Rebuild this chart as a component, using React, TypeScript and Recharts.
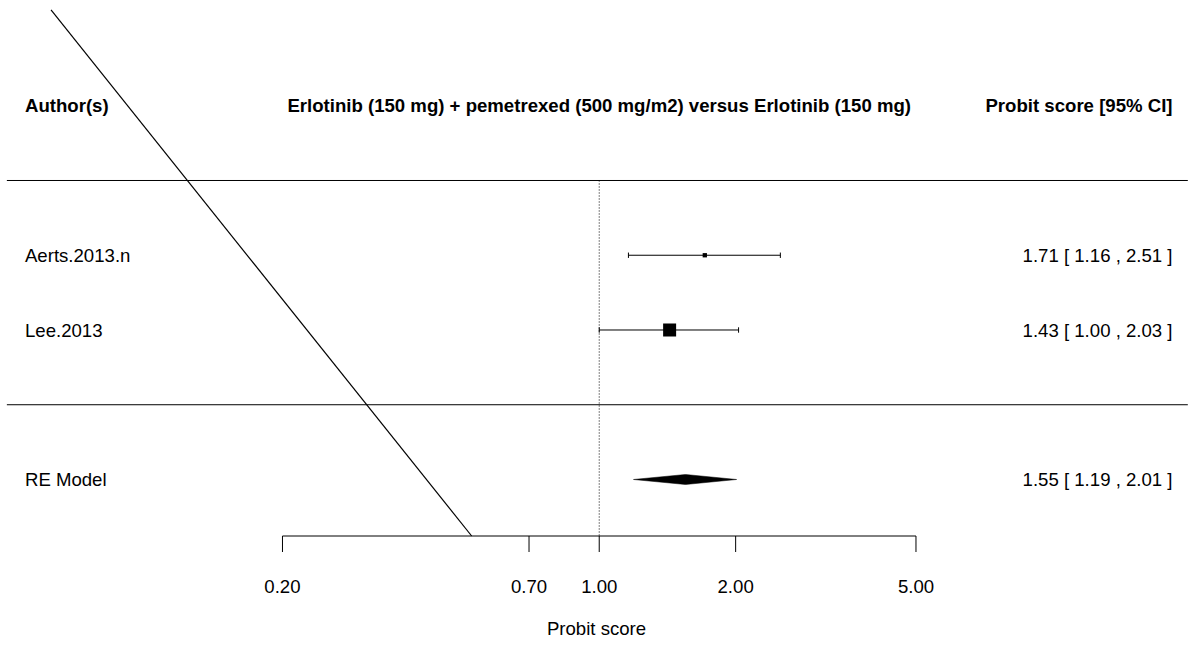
import React from 'react'
import { ComposedChart, XAxis, YAxis, Scatter, ReferenceLine, ReferenceDot } from 'recharts'

// study data
const authors = ['Aerts.2013.n', 'Lee.2013']
const estimates = [1.71, 1.43]
const lower = [1.16, 1.0]
const upper = [2.51, 2.03]
const weights = [45.7, 54.3]

// pooled estimate
const summaryLabel = 'RE Model'
const summaryEst = 1.55
const summaryLo = 1.19
const summaryHi = 2.01

const ticks = [0.2, 0.7, 1, 2, 5]
const title = 'Erlotinib (150 mg) + pemetrexed (500 mg/m2) versus Erlotinib (150 mg)'

// layout
const W = 1193
const H = 645
const XMIN = 0.04761
const XMAX = 20.43
const YMIN = 0.2441
const YMAX = 7.4147
const STUDY_ROWS = [4, 3]
const SUMMARY_ROW = 1
const HEADER_ROW = 6
const SEP_ROWS = [5, 2]
const SEP_X = [0.0493, 19.9]
const LEFT_X = 0.05405
const RIGHT_X = 18.41
const DIAMOND_H = 0.067
const CAP_H = 0.036
const FONT = 18.6
const FAMILY = 'Arial, "Liberation Sans", Helvetica, sans-serif'

// stray diagonal line in the original
const diagonal = [
  { x: 0.0617, y: 7.281 },
  { x: 0.523, y: YMIN },
]

const fmt = (v: number) => v.toFixed(2)

const minW = Math.min(...weights)
const maxW = Math.max(...weights)
const boxSize = (w: number) => 4.3 + ((w - minW) / (maxW - minW)) * 8.7

const studies = authors.map((name, i) => ({
  name,
  x: estimates[i],
  y: STUDY_ROWS[i],
  lo: lower[i],
  hi: upper[i],
  w: weights[i],
}))

const diamond = [
  { x: summaryLo, y: SUMMARY_ROW },
  { x: summaryEst, y: SUMMARY_ROW + DIAMOND_H },
  { x: summaryHi, y: SUMMARY_ROW },
  { x: summaryEst, y: SUMMARY_ROW - DIAMOND_H },
]

const Square = (p: any) => {
  const s = boxSize(p.payload.w)
  return <rect x={p.cx - s / 2} y={p.cy - s / 2} width={s} height={s} fill="#000" />
}

const DiamondShape = (p: any) => {
  const pts = (p.points || []).map((pt: any) => `${pt.x ?? pt.cx},${pt.y ?? pt.cy}`).join(' ')
  return <polygon points={pts} fill="#000" stroke="#000" strokeWidth={0.5} />
}

const textLabel = (value: string, anchor: 'start' | 'middle' | 'end', bold = false) => (p: any) => {
  const vb = p.viewBox || {}
  const x = (vb.x ?? 0) + (vb.width ?? 0) / 2
  const y = (vb.y ?? 0) + (vb.height ?? 0) / 2
  return (
    <text
      x={x}
      y={y}
      dy="0.36em"
      textAnchor={anchor}
      fontWeight={bold ? 'bold' : 'normal'}
      fontSize={FONT}
      fontFamily={FAMILY}
      fill="#000"
    >
      {value}
    </text>
  )
}

const ForestPlot = () => {
  return (
    <ComposedChart width={W} height={H} margin={{ top: 0, right: 0, bottom: 0, left: 0 }}>
      <XAxis
        dataKey="x"
        type="number"
        scale="log"
        domain={[XMIN, XMAX]}
        allowDataOverflow
        ticks={ticks}
        interval={0}
        tickFormatter={fmt}
        axisLine={false}
        tickLine={{ stroke: '#000' }}
        tickSize={16}
        tickMargin={28}
        height={109}
        tick={{ fill: '#000', fontSize: FONT, fontFamily: FAMILY }}
        label={{ value: 'Probit score', position: 'insideBottom', offset: 10, fill: '#000', fontSize: FONT, fontFamily: FAMILY }}
      />
      <YAxis dataKey="y" type="number" domain={[YMIN, YMAX]} allowDataOverflow hide />

      <ReferenceLine segment={diagonal} stroke="#000" strokeWidth={1.2} />
      {SEP_ROWS.map((r) => (
        <ReferenceLine key={r} segment={[{ x: SEP_X[0], y: r }, { x: SEP_X[1], y: r }]} stroke="#000" />
      ))}
      <ReferenceLine segment={[{ x: 1, y: SEP_ROWS[0] }, { x: 1, y: YMIN }]} stroke="#000" strokeDasharray="1 2" />
      <ReferenceLine segment={[{ x: ticks[0], y: YMIN }, { x: ticks[ticks.length - 1], y: YMIN }]} stroke="#000" />

      {/* confidence intervals with end caps */}
      {studies.map((s) => (
        <ReferenceLine key={s.name + '-line'} segment={[{ x: s.lo, y: s.y }, { x: s.hi, y: s.y }]} stroke="#000" />
      ))}
      {studies.map((s) => (
        <ReferenceLine key={s.name + '-lcap'} segment={[{ x: s.lo, y: s.y - CAP_H }, { x: s.lo, y: s.y + CAP_H }]} stroke="#000" />
      ))}
      {studies.map((s) => (
        <ReferenceLine key={s.name + '-hcap'} segment={[{ x: s.hi, y: s.y - CAP_H }, { x: s.hi, y: s.y + CAP_H }]} stroke="#000" />
      ))}

      <Scatter data={studies} shape={Square} isAnimationActive={false} />
      <Scatter data={diamond} shape={() => <g />} line={DiamondShape} isAnimationActive={false} />

      <ReferenceDot x={LEFT_X} y={HEADER_ROW} r={0} stroke="none" label={textLabel('Author(s)', 'start', true)} />
      <ReferenceDot x={1} y={HEADER_ROW} r={0} stroke="none" label={textLabel(title, 'middle', true)} />
      <ReferenceDot x={RIGHT_X} y={HEADER_ROW} r={0} stroke="none" label={textLabel('Probit score [95% CI]', 'end', true)} />
      {studies.map((s) => (
        <ReferenceDot key={s.name} x={LEFT_X} y={s.y} r={0} stroke="none" label={textLabel(s.name, 'start')} />
      ))}
      {studies.map((s) => (
        <ReferenceDot
          key={s.name + '-ci'}
          x={RIGHT_X}
          y={s.y}
          r={0}
          stroke="none"
          label={textLabel(`${fmt(s.x)} [ ${fmt(s.lo)} , ${fmt(s.hi)} ]`, 'end')}
        />
      ))}
      <ReferenceDot x={LEFT_X} y={SUMMARY_ROW} r={0} stroke="none" label={textLabel(summaryLabel, 'start')} />
      <ReferenceDot
        x={RIGHT_X}
        y={SUMMARY_ROW}
        r={0}
        stroke="none"
        label={textLabel(`${fmt(summaryEst)} [ ${fmt(summaryLo)} , ${fmt(summaryHi)} ]`, 'end')}
      />
    </ComposedChart>
  )
}

export default function App() {
  return (
    <div style={{ position: 'absolute', left: 0, top: 0, width: W, height: H, background: '#fff' }}>
      <ForestPlot />
    </div>
  )
}
